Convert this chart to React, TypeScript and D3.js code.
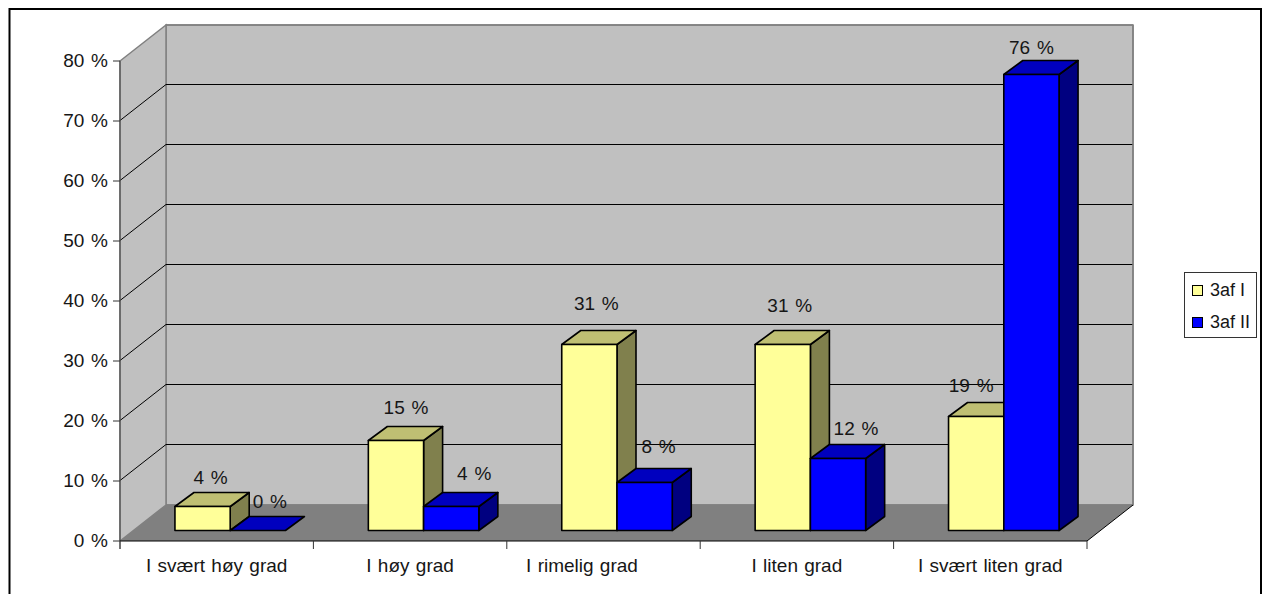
import React from "react";
import * as d3 from "d3";

// Survey responses, in percent, per answer category.
const categories = ["I svært høy grad", "I høy grad", "I rimelig grad", "I liten grad", "I svært liten grad"];
const seriesNames = ["3af I", "3af II"];
const series1 = [4, 15, 31, 31, 19];
const series2 = [0, 4, 8, 12, 76];
const yTicks = [0, 10, 20, 30, 40, 50, 60, 70, 80];

// Hand-placed data label offsets from the bar's front-top centre: [dx, dy].
const labelNudge1 = [[8, -22.5], [10, -27], [7, -34.5], [7, -32.7], [-5, -24.5]];
const labelNudge2 = [[12, -23], [23, -27], [14, -29.5], [18, -23.5], [0, -20.5]];
// Hand-placed horizontal shift of individual category labels.
const categoryNudge = [0, 0, -21.5, 0, 0];

const WIDTH = 1262;
const HEIGHT = 594;
const FONT = "'Liberation Sans', Arial, sans-serif";
const FONT_SIZE = 19;
const INK = "#161616";

const plot = { left: 120, right: 1087, bottom: 541, top: 61 };
const wall = { dx: 46, dy: -36 };
const bar = { dx: 19, dy: -14 };
const barInset = { dx: 13.5, dy: -10.5 };

const y = d3.scaleLinear().domain([0, 80]).range([plot.bottom, plot.top]);
const x0 = d3.scaleBand<number>().domain(d3.range(categories.length)).range([plot.left, plot.right]);
const barWidth = x0.bandwidth() / (2 + 1.5);
const poly = (pts: number[][]) => pts.map((p) => p.join(",")).join(" ");

function Bar({ x, v, colors }: { x: number; v: number; colors: string[] }) {
  const base = plot.bottom + barInset.dy;
  const top = y(v) + barInset.dy;
  const r = x + barWidth;
  const stroke = { stroke: "#000", strokeWidth: 1.6, strokeLinejoin: "round" as const };
  return (
    <g>
      {v > 0 && <polygon points={poly([[r, top], [r + bar.dx, top + bar.dy], [r + bar.dx, base + bar.dy], [r, base]])} fill={colors[2]} {...stroke} />}
      <polygon points={poly([[x, top], [x + bar.dx, top + bar.dy], [r + bar.dx, top + bar.dy], [r, top]])} fill={colors[1]} {...stroke} />
      {v > 0 && <rect x={x} y={top} width={barWidth} height={base - top} fill={colors[0]} {...stroke} />}
    </g>
  );
}

const yellow = ["#ffff99", "#bfbf73", "#80804d"];
const blue = ["#0000ff", "#0000bf", "#000080"];

export default function App() {
  const wx = plot.left + wall.dx;
  const wr = plot.right + wall.dx;
  const wt = plot.top + wall.dy;
  const wb = plot.bottom + wall.dy;
  const text = { fontFamily: FONT, fontSize: FONT_SIZE, fill: INK };
  const legendRows = [yellow[0], blue[0]];

  return (
    <svg width={WIDTH} height={HEIGHT} style={{ position: "absolute", left: 0, top: 0, background: "#fff" }}>
      {/* outer chart frame, open at the bottom */}
      <path d={`M9.5 ${HEIGHT} V9 H1261 V${HEIGHT}`} fill="none" stroke="#000" strokeWidth={2} />

      {/* walls and floor */}
      <rect x={wx} y={wt} width={wr - wx} height={wb - wt} fill="#c0c0c0" stroke="#808080" strokeWidth={1.5} />
      <polygon points={poly([[plot.left, plot.top], [wx, wt], [wx, wb], [plot.left, plot.bottom]])} fill="#c0c0c0" stroke="#808080" strokeWidth={1.5} />
      <polygon points={poly([[plot.left, plot.bottom], [wx, wb], [wr, wb], [plot.right, plot.bottom]])} fill="#808080" />

      {/* gridlines across side and back walls */}
      {yTicks.filter((t) => t > 0 && t < 80).map((t) => (
        <path key={t} d={`M${plot.left} ${y(t)} L${wx} ${y(t) + wall.dy} H${wr}`} fill="none" stroke="#000" strokeWidth={1} transform="translate(0,-0.5)" />
      ))}
      <line x1={wx} x2={wr} y1={wt} y2={wt} stroke="#808080" strokeWidth={1.5} />
      <line x1={wx} x2={wr} y1={wb} y2={wb} stroke="#808080" strokeWidth={1.5} />
      <line x1={wr} x2={wr} y1={wt} y2={wb} stroke="#808080" strokeWidth={1.5} />
      <line x1={plot.right} x2={wr} y1={plot.bottom} y2={wb} stroke="#000" strokeWidth={1} />

      {/* axes */}
      <line x1={plot.left} x2={plot.left} y1={plot.top} y2={plot.bottom + 8} stroke="#555" strokeWidth={1.3} />
      <line x1={plot.left} x2={plot.right} y1={plot.bottom} y2={plot.bottom} stroke="#000" strokeWidth={1} />
      {yTicks.map((t) => (
        <g key={t}>
          <line x1={plot.left - 7} x2={plot.left} y1={y(t)} y2={y(t)} stroke="#333" strokeWidth={1} />
          <text {...text} x={plot.left - 12} y={y(t) - 1} dy="0.35em" textAnchor="end" wordSpacing={1.5}>{`${t} %`}</text>
        </g>
      ))}
      {d3.range(categories.length + 1).map((i) => {
        const px = plot.left + i * x0.step();
        return <line key={i} x1={px} x2={px} y1={plot.bottom} y2={plot.bottom + 8} stroke={i === 0 ? "#555" : "#333"} strokeWidth={1} />;
      })}
      {categories.map((c, i) => (
        <text key={c} {...text} x={x0(i)! + x0.bandwidth() / 2 + categoryNudge[i]} y={571.5} textAnchor="middle" wordSpacing={1}>{c}</text>
      ))}

      {/* bars */}
      {categories.map((c, i) => {
        const start = x0(i)! + barWidth * 0.75 + barInset.dx;
        return (
          <g key={c}>
            <Bar x={start} v={series1[i]} colors={yellow} />
            <Bar x={start + barWidth} v={series2[i]} colors={blue} />
          </g>
        );
      })}

      {/* data labels */}
      {categories.map((c, i) => {
        const start = x0(i)! + barWidth * 0.75 + barInset.dx;
        return (
          <g key={c}>
            <text {...text} x={start + barWidth / 2 + labelNudge1[i][0]} y={y(series1[i]) + barInset.dy + labelNudge1[i][1]} textAnchor="middle" wordSpacing={1.5}>{`${series1[i]} %`}</text>
            <text {...text} x={start + barWidth * 1.5 + labelNudge2[i][0]} y={y(series2[i]) + barInset.dy + labelNudge2[i][1]} textAnchor="middle" wordSpacing={1.5}>{`${series2[i]} %`}</text>
          </g>
        );
      })}

      {/* legend */}
      <rect x={1184.5} y={272.5} width={72} height={65} fill="#fff" stroke="#333" strokeWidth={1} />
      {seriesNames.map((s, i) => (
        <g key={s}>
          <rect x={1192.5} y={285.5 + i * 32} width={10} height={10} fill={legendRows[i]} stroke="#000" strokeWidth={1} />
          <text {...text} fontSize={18} x={1210} y={296 + i * 32}>{s}</text>
        </g>
      ))}
    </svg>
  );
}
